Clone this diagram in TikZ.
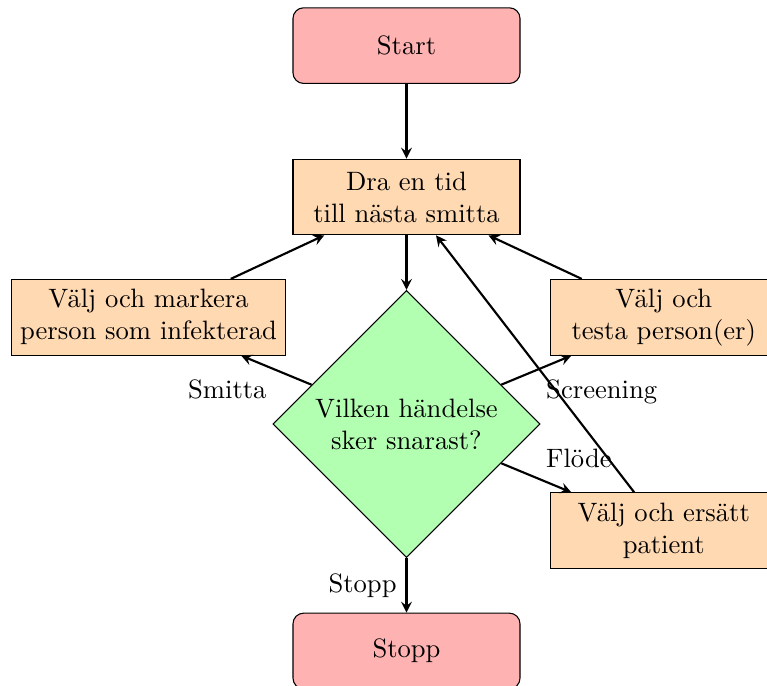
\documentclass[tikz,border=0pt]{standalone}
\usepackage{amsmath}
\usepackage{amssymb}
\usetikzlibrary{shapes.geometric}

\begin{document}
\begin{tikzpicture}[x = 1cm, y = 1cm,
	startstop/.style = {rectangle, rounded corners, minimum width=3cm, minimum height=1cm, align=center, draw=black, fill=red!30},
	process/.style = {rectangle, minimum width=3cm, minimum height=1cm, align=center, draw=black, fill=orange!30},
	decision/.style = {diamond, minimum width=3.53cm, minimum height=3.53cm, inner sep=0pt, align=center, draw=black, fill=green!30},
	arrow/.style = {thick, -stealth}]
	\useasboundingbox (-5.372,-3.462) rectangle (4.764,5.603);

	\node (start) [startstop] at (0,5) {Start};
	\node (draw) [process] at (0,3) {Dra en tid\\till nästa smitta};
	\node (dec) [decision] at (0,0) {Vilken händelse\\sker snarast?};
	\node (infect) [process] at (-3.41,1.41) {Välj och markera\\person som infekterad};
	\node (test) [process] at (3.4,1.41) {Välj och\\testa person(er)};
	\node (replace) [process] at (3.4,-1.41) {Välj och ersätt\\patient};
	\node (stop) [startstop] at (0,-3) {Stopp};

	\draw[arrow] (start) -- (draw);
	\draw[arrow] (draw) -- (dec);
	\draw[arrow] (dec) -- node[below left]{Smitta} (infect);
	\draw[arrow] (dec) -- node[below right]{Screening} (test);
	\draw[arrow] (dec) -- node[above right]{Flöde} (replace);
	\draw[arrow] (dec) -- node[left]{Stopp} (stop);
	\draw[arrow] (infect) -- (draw);
	\draw[arrow] (test) -- (draw);
	\draw[arrow] (replace) -- (draw);
\end{tikzpicture}
\end{document}
